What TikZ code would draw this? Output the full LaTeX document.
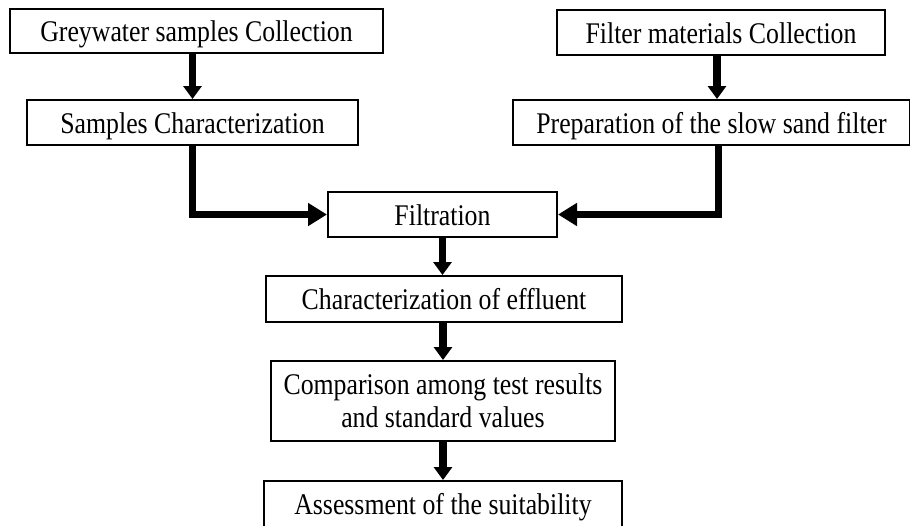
\documentclass[tikz,border=0pt]{standalone}
\usepackage{fontspec}
\setmainfont[FakeStretch=0.86]{Liberation Serif}
\usetikzlibrary{arrows.meta}
\begin{document}
\begin{tikzpicture}[x=1pt,y=-1pt,
  box/.style={draw, line width=2pt, inner sep=0pt, align=center,
    font=\fontsize{30}{33}\selectfont},
  one/.style={text height=21pt, text depth=0pt},
  varrow/.style={line width=7.5pt, -{Triangle[length=13pt,width=18pt]}},
  harrow/.style={line width=7pt, line join=miter, -{Triangle[length=19pt,width=22pt]}}]
\useasboundingbox (0,0) rectangle (910,525);
\node[box, one, minimum width=373pt, minimum height=44pt] (grey) at (196.5,31) {Greywater samples Collection};
\node[box, one, minimum width=331pt, minimum height=45pt] (samp) at (192.5,122.5) {Samples Characterization};
\node[box, one, minimum width=328pt, minimum height=45pt] (fm) at (721,32.5) {Filter materials Collection};
\node[box, one, minimum width=397pt, minimum height=45pt] (prep) at (711.5,122.5) {Preparation of the slow sand filter};
\node[box, one, minimum width=229pt, minimum height=45pt] (filt) at (442.5,214.5) {Filtration};
\node[box, one, minimum width=356pt, minimum height=46pt] (char) at (444,299) {Characterization of effluent};
\node[box, minimum width=344pt, minimum height=80pt] (comp) at (443,401) {Comparison among test results\\and standard values};
\node[box, one, minimum width=358pt, minimum height=46pt] (ass) at (443,504) {Assessment of the suitability};
\draw[varrow] (samp.north |- grey.south) -- (samp.north);
\draw[varrow] ([xshift=-4pt]fm.south) -- ([xshift=-4pt]fm.south |- prep.north);
\draw[harrow] (samp.south) -- (samp.south |- filt.west) -- (filt.west);
\draw[harrow] ([xshift=6.5pt]prep.south) -- ([xshift=6.5pt]prep.south |- filt.east) -- (filt.east);
\draw[varrow] (filt.south) -- (filt.south |- char.north);
\draw[varrow] (comp.north |- char.south) -- (comp.north);
\draw[varrow] (comp.south) -- (comp.south |- ass.north);
\end{tikzpicture}
\end{document}
